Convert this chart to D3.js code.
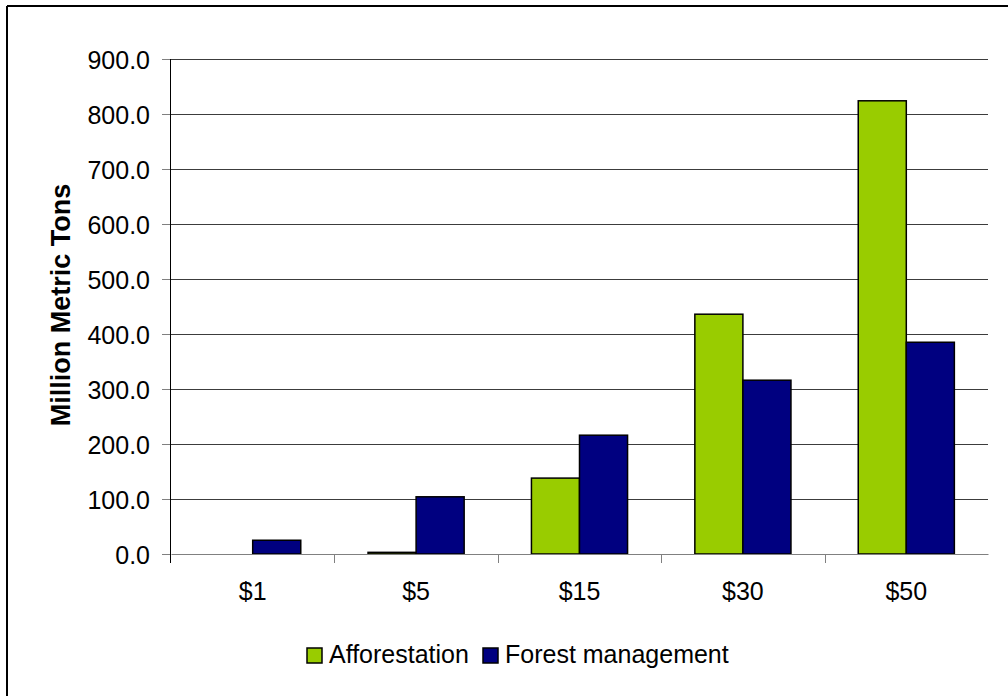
<!DOCTYPE html>
<html>
<head>
<meta charset="utf-8">
<script src="https://cdn.jsdelivr.net/npm/d3@7"></script>
<style>
  body { margin: 0; background: #fff; }
  text { font-family: "Liberation Sans", Arial, sans-serif; fill: #000; }
</style>
</head>
<body>
<div class="chart"></div>
<script>
// Chart data
const categories = ["$1", "$5", "$15", "$30", "$50"];
const seriesNames = ["Afforestation", "Forest management"];
const afforestation = [0, 3, 138, 436, 824];
const forestManagement = [25, 104, 216, 316, 385];
const yTicks = [0, 100, 200, 300, 400, 500, 600, 700, 800, 900];
const colors = ["#99CC00", "#000080"];

const data = categories.map((c, i) => ({
    cat: c,
    values: [afforestation[i], forestManagement[i]]
}));

const W = 1008, H = 696;
const margin = {top: 59, right: 20, bottom: 142, left: 171};
const width = 988 - margin.left;   // plot right edge at 988
const height = 554 - margin.top;   // baseline at 554

const svg = d3.select(".chart")
    .append("svg")
    .attr("width", W)
    .attr("height", H);

// frame: only top and left edges visible
svg.append("line").attr("x1", 7).attr("x2", W).attr("y1", 6).attr("y2", 6)
    .attr("stroke", "#000").attr("stroke-width", 2);
svg.append("line").attr("x1", 7).attr("x2", 7).attr("y1", 6).attr("y2", H)
    .attr("stroke", "#000").attr("stroke-width", 2);

const g = svg.append("g")
    .attr("transform", `translate(${margin.left}, ${margin.top})`);

// scales
const x0 = d3.scaleBand()
    .domain(categories)
    .range([0, width]);

const x1 = d3.scaleBand()
    .domain([0, 1])
    .range([0, x0.bandwidth()])
    .paddingOuter(0.7);

const y = d3.scaleLinear()
    .domain([0, 900])
    .range([height, 0]);

// gridlines
g.selectAll(".grid")
    .data(yTicks.filter(d => d > 0))
    .enter()
    .append("line")
    .attr("x1", 0)
    .attr("x2", width)
    .attr("y1", d => Math.round(y(d)) + 0.5)
    .attr("y2", d => Math.round(y(d)) + 0.5)
    .attr("stroke", "#3c3c3c")
    .attr("stroke-width", 1);

// y axis
const yAxis = g.append("g")
    .call(d3.axisLeft(y).tickValues(yTicks).tickFormat(d3.format(".1f")).tickSize(9).tickPadding(12));
yAxis.select(".domain").remove();
yAxis.selectAll(".tick line").attr("stroke", "#808080");
yAxis.selectAll(".tick text")
    .style("font-size", "25px")
    .attr("dy", "0.36em");

// bars
const groups = g.selectAll(".group")
    .data(data)
    .enter()
    .append("g")
    .attr("transform", d => `translate(${x0(d.cat)}, 0)`);

groups.selectAll("rect")
    .data(d => d.values.map((v, i) => ({v, i})))
    .enter()
    .append("rect")
    .attr("x", d => x1(d.i))
    .attr("y", d => y(d.v))
    .attr("width", x1.bandwidth())
    .attr("height", d => height - y(d.v))
    .attr("fill", d => colors[d.i])
    .attr("stroke", "#000")
    .attr("stroke-width", 1.5);

// x axis
const xAxis = g.append("g")
    .attr("transform", `translate(0, ${height})`)
    .call(d3.axisBottom(x0).tickSize(0).tickPadding(28));
xAxis.select(".domain").attr("stroke", "#808080");
xAxis.selectAll(".tick text").style("font-size", "25px");

// category separator ticks
g.selectAll(".sep")
    .data(categories.slice(1))
    .enter()
    .append("line")
    .attr("x1", d => Math.round(x0(d)) + 0.5)
    .attr("x2", d => Math.round(x0(d)) + 0.5)
    .attr("y1", height)
    .attr("y2", height + 9)
    .attr("stroke", "#808080");

// y axis line
g.append("line")
    .attr("x1", -0.5).attr("x2", -0.5)
    .attr("y1", 0).attr("y2", height + 9)
    .attr("stroke", "#000");

// y axis label
g.append("text")
    .attr("transform", "rotate(-90)")
    .attr("x", -(305 - margin.top))
    .attr("y", 70 - margin.left)
    .attr("text-anchor", "middle")
    .style("font-size", "27px")
    .style("font-weight", "bold")
    .text("Million Metric Tons");

// legend
const legend = svg.append("g").attr("transform", "translate(307, 648)");
const legendX = [0, 176];
seriesNames.forEach((name, i) => {
    const item = legend.append("g").attr("transform", `translate(${legendX[i]}, 0)`);
    item.append("rect")
        .attr("width", 15).attr("height", 15)
        .attr("fill", colors[i])
        .attr("stroke", "#000")
        .attr("stroke-width", 1.5);
    item.append("text")
        .attr("x", 22)
        .attr("y", 15)
        .style("font-size", "25px")
        .text(name);
});
</script>
</body>
</html>
